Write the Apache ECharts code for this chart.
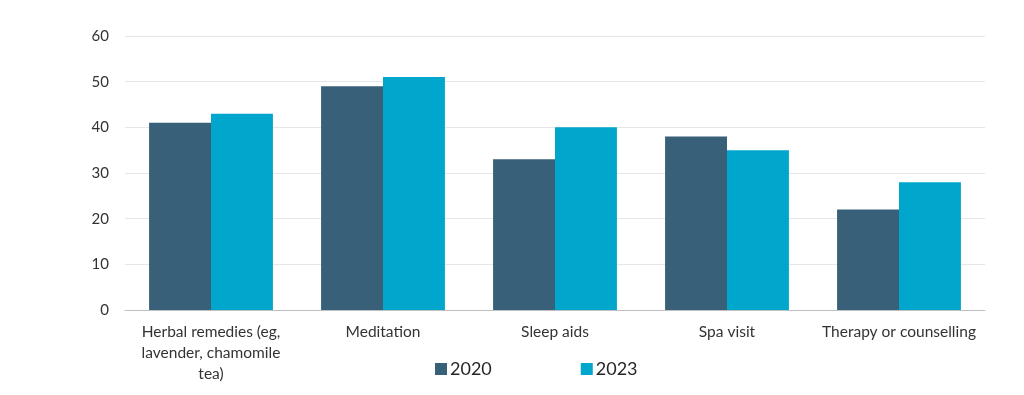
<!DOCTYPE html>
<html>
<head>
<meta charset="utf-8">
<script src="https://cdn.jsdelivr.net/npm/echarts@6/dist/echarts.min.js"></script>
<style>
html,body{margin:0;padding:0;background:#fff;}
#chart{width:1024px;height:395px;}
</style>
</head>
<body>
<div id="chart"></div>
<script>
const categories = ["Herbal remedies (eg,\nlavender, chamomile\ntea)", "Meditation", "Sleep aids", "Spa visit", "Therapy or counselling"];
const seriesNames = ["2020", "2023"];
const values2020 = [41, 49, 33, 38, 22];
const values2023 = [43, 51, 40, 35, 28];
const yTicks = {min: 0, max: 60, interval: 10};

const chart = echarts.init(document.getElementById('chart'), null, {renderer: 'canvas'});
const font = 'Lato, "Open Sans", sans-serif';
chart.setOption({
  animation: false,
  textStyle: {fontFamily: font},
  grid: {left: 125, right: 39, top: 36, bottom: 85, containLabel: false},
  legend: {
    data: seriesNames,
    left: 430, top: 355,
    itemWidth: 12, itemHeight: 12, itemGap: 89,
    icon: 'rect',
    textStyle: {fontSize: 18, color: '#262626', fontFamily: font, padding: [0,0,0,-2]}
  },
  xAxis: {
    type: 'category',
    data: categories,
    axisTick: {show: false},
    axisLine: {lineStyle: {color: '#bfbfbf', width: 1}},
    axisLabel: {fontSize: 15.5, color: '#333', lineHeight: 21, margin: 11, interval: 0, fontFamily: font}
  },
  yAxis: {
    type: 'value',
    min: yTicks.min, max: yTicks.max, interval: yTicks.interval,
    axisLine: {show: false},
    axisTick: {show: false},
    splitLine: {lineStyle: {color: '#e6e6e6', width: 1}},
    axisLabel: {fontSize: 15, color: '#333', margin: 16, fontFamily: font}
  },
  series: [
    {name: seriesNames[0], type: 'bar', data: values2020, barGap: '0%', barCategoryGap: '28%', itemStyle: {color: '#386078'}},
    {name: seriesNames[1], type: 'bar', data: values2023, barGap: '0%', barCategoryGap: '28%', itemStyle: {color: '#00a6cc'}}
  ]
});
</script>
</body>
</html>
